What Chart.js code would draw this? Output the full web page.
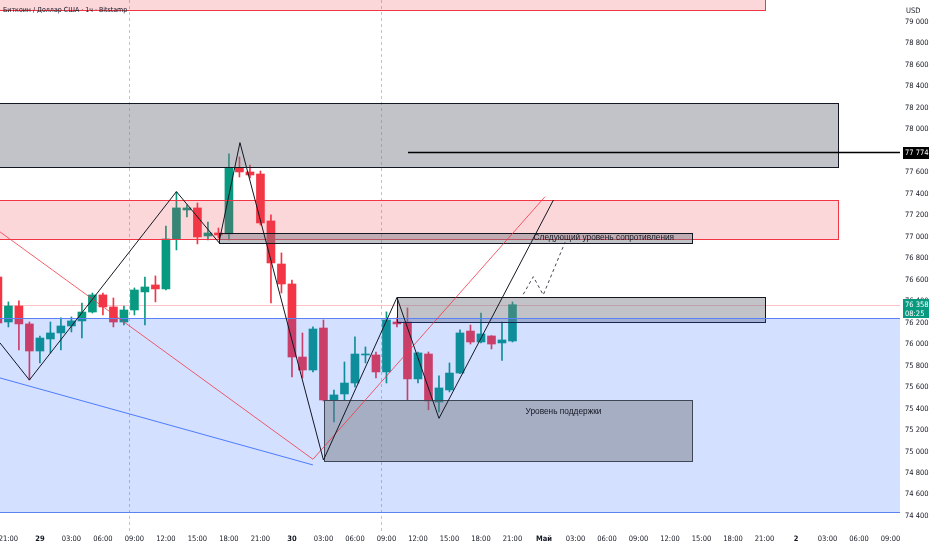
<!DOCTYPE html>
<html lang="ru">
<head>
<meta charset="utf-8">
<title>Биткоин / Доллар США · 1ч</title>
<script src="https://cdn.jsdelivr.net/npm/chart.js@4.4.1/dist/chart.umd.min.js"></script>
<style>
  html, body { margin: 0; padding: 0; background: #ffffff; }
  #wrap { width: 932px; height: 550px; }
</style>
</head>
<body>
<div id="wrap"><canvas id="btcChart" width="932" height="550"></canvas></div>
<script>
// --- Données : bougies 1h, heures comptées depuis le 29 avril 00:00 ---
const hours = [-4, -3, -2, -1, 0, 1, 2, 3, 4, 5, 6, 7, 8, 9, 10, 11, 12, 13, 14, 15, 16, 17, 18, 19, 20,
    21, 22, 23, 24, 25, 26, 27, 28, 29, 30, 31, 32, 33, 34, 35, 36, 37, 38, 39, 40, 41, 42, 43, 44, 45];
const opens = [76616, 76197, 76346, 76179, 75927, 76039, 76095, 76160, 76207, 76290, 76449, 76337, 76197,
    76309, 76477, 76542, 76505, 76970, 77240, 77259, 76998, 77026, 77017, 77631, 77594, 77575, 77138,
    76737, 76551, 75871, 75750, 76141, 75471, 75527, 75629, 75890, 75890, 75732, 76197, 76197, 75667,
    75899, 75452, 75564, 75722, 76113, 76011, 76067, 76002, 76020];
const highs = [76681, 76384, 76393, 76197, 76067, 76197, 76235, 76244, 76374, 76467, 76467, 76421, 76346,
    76514, 76616, 76626, 77091, 77408, 77287, 77305, 77128, 77072, 77762, 77734, 77659, 77603, 77194,
    76840, 76588, 76095, 76151, 76216, 75564, 75825, 76058, 75965, 75918, 76291, 76235, 76328, 75918,
    75918, 75695, 75816, 76123, 76169, 76281, 76070, 76197, 76384];
const lows = [76160, 76151, 75937, 75657, 75816, 75909, 75937, 76104, 76048, 76281, 76263, 76151, 76169,
    76263, 76169, 76384, 76495, 76868, 77175, 76924, 76961, 76979, 76961, 77547, 77538, 77100, 76374,
    76467, 75685, 75676, 75732, 75462, 75266, 75471, 75592, 75816, 75676, 75629, 76151, 75471, 75629,
    75379, 75360, 75546, 75715, 75992, 76002, 75946, 75839, 76011];
const closes = [76188, 76346, 76179, 75927, 76048, 76095, 76160, 76207, 76290, 76449, 76337, 76197, 76309,
    76495, 76523, 76505, 76970, 77259, 77259, 76989, 77026, 77007, 77631, 77594, 77566, 77119, 76747,
    76551, 75871, 75750, 76132, 75471, 75518, 75629, 75899, 75899, 75732, 76216, 76179, 75667, 75909,
    75462, 75583, 75722, 76095, 76011, 76086, 75992, 76030, 76358];

// --- Axes ---
const xTickHours = [-3, 0, 3, 6, 9, 12, 15, 18, 21, 24, 27, 30, 33, 36, 39, 42, 45, 48, 51, 54, 57, 60,
    63, 66, 69, 72, 75, 78, 81];
const xTickLabels = ['21:00', '29', '03:00', '06:00', '09:00', '12:00', '15:00', '18:00', '21:00', '30',
    '03:00', '06:00', '09:00', '12:00', '15:00', '18:00', '21:00', 'Май', '03:00', '06:00', '09:00',
    '12:00', '15:00', '18:00', '21:00', '2', '03:00', '06:00', '09:00'];
const priceTicks = [74400, 74600, 74800, 75000, 75200, 75400, 75600, 75800, 76000, 76200, 76400, 76600,
    76800, 77000, 77200, 77400, 77600, 77800, 78000, 78200, 78400, 78600, 78800, 79000];
const sessionBreaks = [8.5, 32.5];
const levelPrice = 77774;
const countdown = '08:25';

// --- Dessins : zones (heures de début/fin, prix haut/bas) ---
const zones = [
    { from: -4, to: 69.05, top: 79400, bottom: 79102, kind: 'pink' },
    { from: -4, to: 76, top: 78236, bottom: 77641, kind: 'gray' },
    { from: -4, to: 76, top: 77333, bottom: 76966, kind: 'pink' },
    { from: 17.05, to: 62.1, top: 77028, bottom: 76930, kind: 'gray' },
    { from: 34, to: 69.05, top: 76430, bottom: 76197, kind: 'gray' },
    { from: -4, to: 82.5, top: 76235, bottom: 74428, kind: 'blue' },
    { from: 27.05, to: 62.1, top: 75471, bottom: 74903, kind: 'support' }
];

// --- Dessins : lignes ---
const zigzagHours = [-3.8, -1, 13, 17.05, 19.05, 27.0, 34.0, 38.0, 48.9];
const zigzagPrices = [76002, 75657, 77411, 76936, 77867, 74912, 76425, 75300, 77333];
const redLineHours = [-3.8, 26.0, 48.1];
const redLinePrices = [77036, 74919, 77364];
const blueLineHours = [-3.8, 26.0];
const blueLinePrices = [75676, 74866];
const dashHours = [46.03, 46.98, 47.93, 50.0];
const dashPrices = [76455, 76619, 76449, 76939];
const levelHours = [35.05, 82];

const notes = [
    { h: 53.7, p: 76978, text: 'Следующий уровень сопротивления' },
    { h: 49.86, p: 75360, text: 'Уровень поддержки' }
];

const GREEN = '#089981';
const RED = '#F23645';
const FONT = "'Liberation Sans Narrow', 'DejaVu Sans Condensed', 'Liberation Sans', sans-serif";

const zoneStyles = {
    pink: { fill: 'rgba(242, 54, 69, 0.2)', line: '#F23645' },
    gray: { fill: 'rgba(120, 123, 134, 0.45)', line: '#131722' },
    support: { fill: 'rgba(110, 113, 124, 0.45)', line: '#3f4656' },
    blue: { fill: 'rgba(41, 98, 255, 0.2)', line: '#5b82f0' }
};

const candleColors = opens.map((o, i) => closes[i] >= o ? GREEN : RED);
const toPoints = (xs, ys) => xs.map((h, i) => ({ x: h, y: ys[i] }));
const fmt = v => String(Math.round(v)).replace(/\B(?=(\d{3})+(?!\d))/g, ' ');

// --- Zones et textes, dessinés au-dessus des bougies ---
const drawingsPlugin = {
    id: 'drawings',
    beforeDatasetsDraw(chart) {
        const { ctx, chartArea: a, scales: { x, y } } = chart;
        ctx.save();
        ctx.strokeStyle = 'rgba(120, 123, 134, 0.45)';
        ctx.setLineDash([3, 3]);
        ctx.lineWidth = 1;
        sessionBreaks.forEach(h => {
            const px = Math.round(x.getPixelForValue(h)) + 0.5;
            ctx.beginPath();
            ctx.moveTo(px, a.top);
            ctx.lineTo(px, a.bottom + 8);
            ctx.stroke();
        });
        ctx.setLineDash([]);
        const py = Math.round(y.getPixelForValue(closes[closes.length - 1])) + 0.5;
        ctx.strokeStyle = 'rgba(242, 54, 69, 0.3)';
        ctx.beginPath();
        ctx.moveTo(a.left, py);
        ctx.lineTo(a.right, py);
        ctx.stroke();
        ctx.restore();
    },
    afterDatasetDraw(chart, args) {
        if (args.index !== 1) return;
        const { ctx, chartArea: a, scales: { x, y } } = chart;
        ctx.save();
        ctx.beginPath();
        ctx.rect(a.left, a.top, a.right - a.left, a.bottom - a.top);
        ctx.clip();
        zones.forEach(z => {
            const st = zoneStyles[z.kind];
            const x0 = Math.round(x.getPixelForValue(z.from)) + 0.5;
            const x1 = Math.round(x.getPixelForValue(z.to)) + 0.5;
            const y0 = Math.round(y.getPixelForValue(z.top)) + 0.5;
            const y1 = Math.round(y.getPixelForValue(z.bottom)) + 0.5;
            ctx.fillStyle = st.fill;
            ctx.fillRect(x0, y0, x1 - x0, y1 - y0);
            ctx.strokeStyle = st.line;
            ctx.lineWidth = 1;
            ctx.strokeRect(x0, y0, x1 - x0, y1 - y0);
        });
        ctx.fillStyle = '#131722';
        ctx.font = "8.3px 'Liberation Sans', sans-serif";
        ctx.textAlign = 'center';
        ctx.textBaseline = 'middle';
        notes.forEach(n => ctx.fillText(n.text, x.getPixelForValue(n.h), y.getPixelForValue(n.p)));
        ctx.restore();
    },
    afterDraw(chart) {
        const { ctx, chartArea: a, scales: { y } } = chart;
        ctx.save();
        ctx.textBaseline = 'middle';
        ctx.textAlign = 'left';

        // titre
        ctx.fillStyle = '#131722';
        ctx.font = '7px ' + FONT;
        ctx.fillText('Биткоин / Доллар США · 1ч · Bitstamp', 3, 10);
        ctx.font = '7.5px ' + FONT;
        ctx.fillText('USD', a.right + 6, 11);

        // étiquette du niveau
        const yl = y.getPixelForValue(levelPrice);
        ctx.fillStyle = '#000000';
        ctx.fillRect(a.right + 3, Math.round(yl) - 6, 26, 12);
        ctx.fillStyle = '#ffffff';
        ctx.font = '7.5px ' + FONT;
        ctx.fillText(fmt(levelPrice), a.right + 5, yl);

        // dernier prix + compte à rebours
        const last = closes[closes.length - 1];
        const yp = y.getPixelForValue(last);
        ctx.fillStyle = GREEN;
        ctx.fillRect(a.right + 3, Math.round(yp) - 6, 26, 19);
        ctx.fillStyle = '#ffffff';
        ctx.fillText(fmt(last), a.right + 5, yp);
        ctx.fillText(countdown, a.right + 5, yp + 9);
        ctx.restore();
    }
};

const ctx = document.getElementById('btcChart').getContext('2d');
new Chart(ctx, {
    type: 'bar',
    data: {
        datasets: [
            {
                label: 'wicks',
                data: hours.map((h, i) => ({ x: h, y: [lows[i], highs[i]] })),
                backgroundColor: candleColors,
                barThickness: 1,
                grouped: false,
                order: 3
            },
            {
                label: 'bodies',
                data: hours.map((h, i) => ({ x: h, y: [opens[i], closes[i]] })),
                backgroundColor: candleColors,
                barThickness: 8,
                minBarLength: 1,
                grouped: false,
                order: 2
            },
            {
                type: 'line',
                label: 'zigzag',
                data: toPoints(zigzagHours, zigzagPrices),
                borderColor: '#131722',
                borderWidth: 1,
                pointRadius: 0,
                order: 1
            },
            {
                type: 'line',
                label: 'red',
                data: toPoints(redLineHours, redLinePrices),
                borderColor: '#F23645',
                borderWidth: 0.8,
                pointRadius: 0,
                order: 1
            },
            {
                type: 'line',
                label: 'blue',
                data: toPoints(blueLineHours, blueLinePrices),
                borderColor: '#2962FF',
                borderWidth: 0.8,
                pointRadius: 0,
                order: 1
            },
            {
                type: 'line',
                label: 'dash',
                data: toPoints(dashHours, dashPrices),
                borderColor: '#131722',
                borderWidth: 0.8,
                borderDash: [3, 3],
                pointRadius: 0,
                order: 1
            },
            {
                type: 'line',
                label: 'level',
                data: toPoints(levelHours, [levelPrice, levelPrice]),
                borderColor: '#000000',
                borderWidth: 1.5,
                pointRadius: 0,
                order: 1
            }
        ]
    },
    options: {
        responsive: false,
        animation: false,
        layout: { padding: 0 },
        plugins: { legend: { display: false }, tooltip: { enabled: false } },
        scales: {
            x: {
                type: 'linear',
                min: -3.8,
                max: 81.9,
                offset: false,
                grid: { display: false, drawTicks: false },
                border: { display: false },
                afterFit: s => { s.height = 25; s.paddingLeft = 0; s.paddingRight = 0; },
                afterBuildTicks: s => { s.ticks = xTickHours.map(v => ({ value: v })); },
                ticks: {
                    autoSkip: false,
                    maxRotation: 0,
                    padding: 10,
                    color: '#131722',
                    font: c => ({ family: FONT, size: 7.5, weight: (c.tick && c.tick.value % 24 === 0) ? 'bold' : 'normal' }),
                    callback: (v, i) => xTickLabels[i]
                }
            },
            y: {
                type: 'linear',
                position: 'right',
                min: 74307,
                max: 79195,
                grid: { display: false, drawTicks: false },
                border: { display: false },
                afterFit: s => { s.width = 32; s.paddingTop = 0; s.paddingBottom = 0; },
                afterBuildTicks: s => { s.ticks = priceTicks.map(v => ({ value: v })); },
                ticks: {
                    padding: 5,
                    labelOffset: 1,
                    color: '#131722',
                    font: { family: FONT, size: 7.5 },
                    callback: v => fmt(v)
                }
            }
        }
    },
    plugins: [drawingsPlugin]
});
</script>
</body>
</html>
